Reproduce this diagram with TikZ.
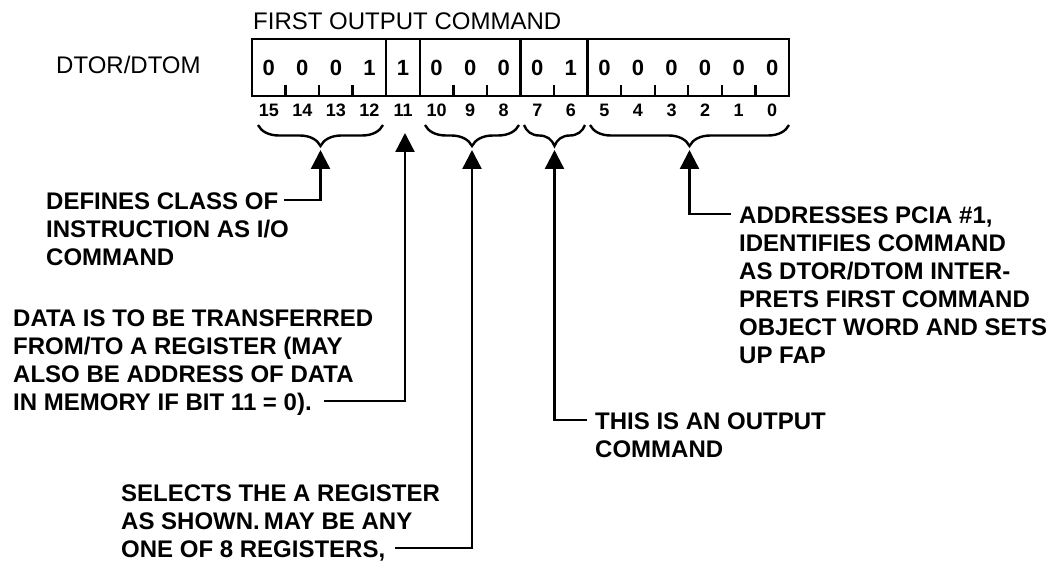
\documentclass[tikz,border=0pt]{standalone}
\usepackage{fontspec}
\setmainfont{Liberation Sans}
\usetikzlibrary{arrows.meta,decorations.pathreplacing}
\newcommand{\notefont}{\fontsize{24}{28}\selectfont\bfseries}

\begin{document}
\begin{tikzpicture}[x=1pt, y=-1pt, line width=2.4pt,
  label/.style={font=\fontsize{24}{24}\selectfont, anchor=west, inner sep=0pt},
  bitval/.style={font=\fontsize{22}{22}\selectfont\bfseries, inner sep=0pt},
  bitnum/.style={font=\fontsize{18}{18}\selectfont\bfseries, inner sep=0pt},
  note/.style={font=\notefont, align=left, inner sep=0pt, anchor=north west},
  field/.style={decorate, decoration={brace, mirror, amplitude=21pt}},
  pointer/.style={-{Triangle[width=19pt, length=19pt]}}
]
  \useasboundingbox (0,0) rectangle (1050,561);

  % Title and register name
  \node[label] (title) at (252,21) {FIRST OUTPUT COMMAND};
  \node[label] (reg) at (55,65) {DTOR/DTOM};

  % Word frame, field dividers and bit ticks
  \draw (252,39) rectangle (789,96);
  \foreach \d in {4,5,8,10}
    \draw (252+33.56*\d,39) -- (252+33.56*\d,96);
  \foreach \t in {1,2,3,6,7,9,11,12,13,14,15}
    \draw (252+33.56*\t,96) -- (252+33.56*\t,85);

  % Bit values and bit numbers
  \foreach \v [count=\i from 0] in {0,0,0,1,1,0,0,0,0,1,0,0,0,0,0,0} {
    \pgfmathtruncatemacro\n{15-\i}
    \node[bitval] (v\i) at (268.8+33.56*\i,68) {\v};
    \node[bitnum] (n\i) at (268.8+33.56*\i,110) {\n};
  }

  % Field braces
  \draw[field] (258,125) -- (383,125);
  \draw[field] (425,125) -- (519,125);
  \draw[field] (524,125) -- (585,125);
  \draw[field] (590,125) -- (789,125);

  % Pointer tips
  \coordinate (t1) at (320.5,150);
  \coordinate (t2) at (405,133);
  \coordinate (t3) at (472,150);
  \coordinate (t4) at (554.5,150);
  \coordinate (t5) at (689.5,150);

  % Bits 15-12
  \node[note] (class) at (45,191.4)
    {DEFINES CLASS OF\\INSTRUCTION AS I/O\\COMMAND};
  \coordinate (e1) at (284,200);
  \draw[pointer] (e1) -| (t1);

  % Bit 11
  \node[note] (data) at (12,308.4)
    {DATA IS TO BE TRANSFERRED\\FROM/TO A REGISTER (MAY\\ALSO BE ADDRESS OF DATA\\IN MEMORY IF BIT 11 = 0).};
  \coordinate (e2) at (324,401);
  \draw[pointer] (e2) -| (t2);

  % Bits 10-8
  \node[note] (select) at (120,483.4)
    {SELECTS THE A REGISTER\\AS SHOWN.\,MAY BE ANY\\ONE OF 8 REGISTERS,};
  \coordinate (e3) at (395,548);
  \draw[pointer] (e3) -| (t3);

  % Bits 7-6
  \node[note] (output) at (594,411.4) {THIS IS AN OUTPUT\\COMMAND};
  \coordinate (e4) at (587,420);
  \draw[pointer] (e4) -| (t4);

  % Bits 5-0
  \node[note] (address) at (738,205.4)
    {ADDRESSES PCIA \#1,\\IDENTIFIES COMMAND\\AS DTOR/DTOM INTER-\\PRETS FIRST COMMAND\\OBJECT WORD AND SETS\\UP FAP};
  \coordinate (e5) at (731,214);
  \draw[pointer] (e5) -| (t5);
\end{tikzpicture}
\end{document}
